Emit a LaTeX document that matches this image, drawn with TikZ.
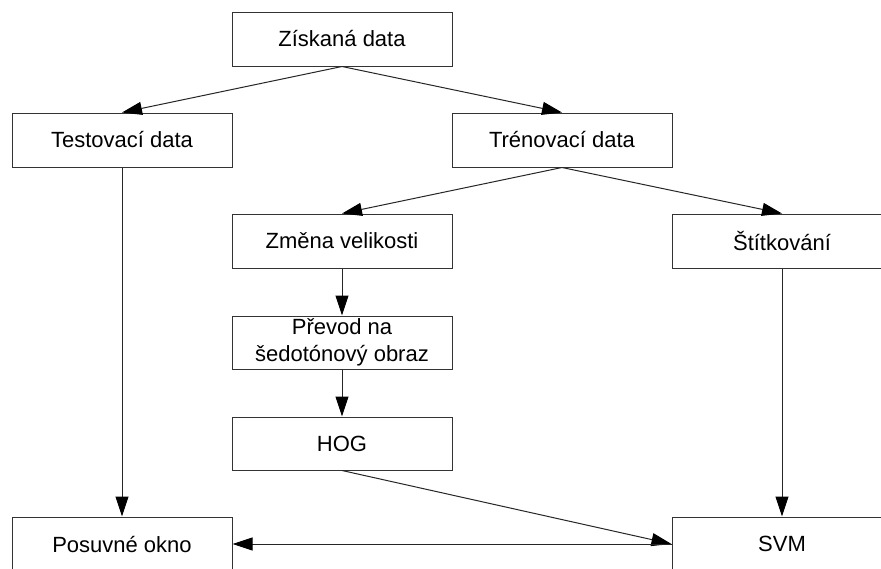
\documentclass[tikz,border=0pt]{standalone}
\usepackage{fontspec}
\setmainfont{Liberation Sans}
\usetikzlibrary{arrows.meta}
\tikzset{
  box/.style={draw=black!80, line width=1pt, minimum width=220pt, minimum height=54pt, inner sep=0pt, align=center, font=\fontsize{22}{27}\selectfont},
  conn/.style={draw=black!85, line width=1pt, -{Triangle[length=20pt,width=13pt,fill=black,color=black]}}
}
\begin{document}
\begin{tikzpicture}[x=1pt,y=-1pt]
\useasboundingbox (0,0) rectangle (881,568);
\clip (0,0) rectangle (881,568);
\fill[white] (0,0) rectangle (881,568);
\node[box] (zd) at (342,39) {Získaná data};
\node[box] (td) at (122,140) {Testovací data};
\node[box] (tr) at (562,140) {Trénovací data};
\node[box] (zv) at (342,241) {Změna velikosti};
\node[box] (st) at (782,241) {Štítkování};
\node[box, minimum height=53pt] (pr) at (342,342.5) {Převod na\\šedotónový obraz};
\node[box, minimum height=53pt] (hog) at (342,443.5) {HOG};
\node[box] (po) at (122,544) {Posuvné okno};
\node[box] (svm) at (782,544) {SVM};
\draw[conn] (zd.south) -- (td.north);
\draw[conn] (zd.south) -- (tr.north);
\draw[conn] (tr.south) -- (zv.north);
\draw[conn] (tr.south) -- (st.north);
\draw[conn] (td.south) -- (po.north);
\draw[conn] (zv.south) -- (pr.north);
\draw[conn] (pr.south) -- (hog.north);
\draw[conn] (st.south) -- (svm.north);
\draw[conn] (hog.south) -- (svm.west);
\draw[conn] (svm.west) -- (po.east);
\end{tikzpicture}
\end{document}
